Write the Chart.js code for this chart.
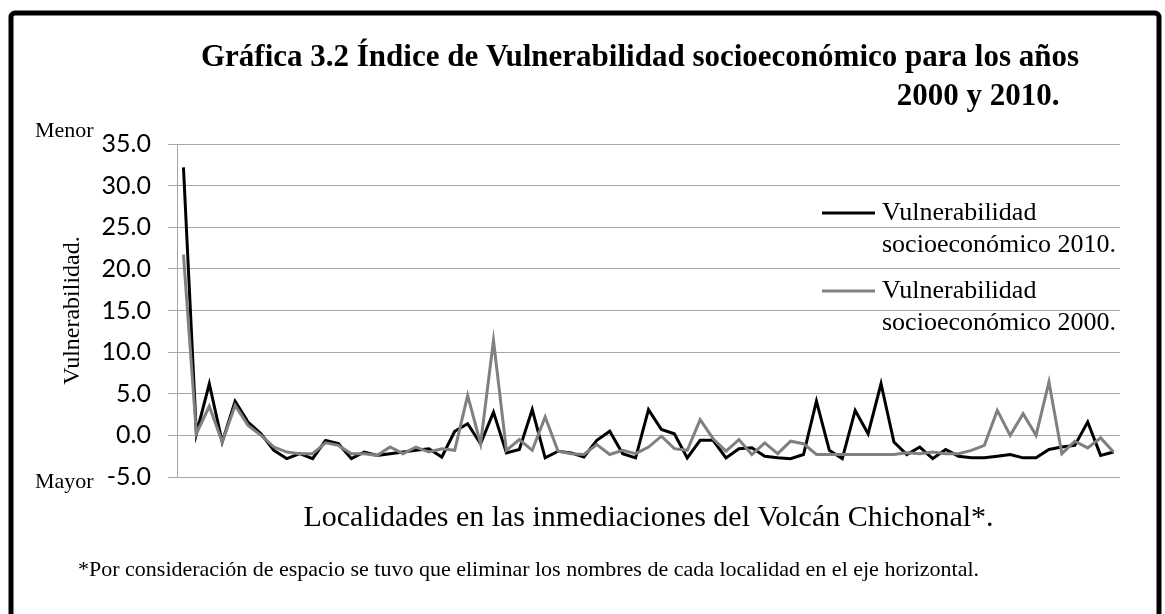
<!DOCTYPE html>
<html>
<head>
<meta charset="utf-8">
<title>Gráfica 3.2</title>
<script src="https://cdn.jsdelivr.net/npm/chart.js@4.4.1/dist/chart.umd.min.js"></script>
<style>
  html, body { margin: 0; padding: 0; background: #fff; }
  #wrap { width: 1165px; height: 614px; }
</style>
</head>
<body>
<div id="wrap"><canvas id="vulnChart" width="1165" height="614"></canvas></div>
<script>
// Localidades (sin nombre en el eje horizontal)
const localidades = [1, 2, 3, 4, 5, 6, 7, 8, 9, 10, 11, 12, 13, 14, 15, 16, 17, 18, 19, 20, 21, 22, 23, 24, 25, 26, 27, 28, 29, 30, 31, 32, 33, 34, 35, 36, 37, 38, 39, 40, 41, 42, 43, 44, 45, 46, 47, 48, 49, 50, 51, 52, 53, 54, 55, 56, 57, 58, 59, 60, 61, 62, 63, 64, 65, 66, 67, 68, 69, 70, 71, 72, 73];

// Índice de vulnerabilidad socioeconómico por localidad
const vuln2010 = [32.2, 0.2, 6.2, -0.8, 4.1, 1.6, 0.2, -1.8, -2.8, -2.2, -2.8, -0.6, -1.0, -2.8, -2.0, -2.4, -2.2, -2.0, -1.8, -1.6,
  -2.6, 0.5, 1.4, -1.0, 2.8, -2.1, -1.7, 3.1, -2.7, -1.9, -2.1, -2.6, -0.6, 0.5, -2.2, -2.7, 3.1, 0.7, 0.2, -2.7,
  -0.6, -0.6, -2.7, -1.6, -1.5, -2.5, -2.7, -2.8, -2.3, 4.1, -1.8, -2.8, 3.0, 0.2, 6.2, -0.8, -2.3, -1.4, -2.8, -1.7,
  -2.5, -2.7, -2.7, -2.5, -2.3, -2.7, -2.7, -1.7, -1.4, -1.2, 1.6, -2.4, -2.0];
const vuln2000 = [21.7, 0.2, 3.5, -0.8, 3.6, 1.2, 0.0, -1.4, -2.0, -2.2, -2.2, -0.9, -1.2, -2.2, -2.2, -2.4, -1.4, -2.2, -1.4, -2.0,
  -1.6, -1.8, 4.8, -1.0, 11.4, -1.8, -0.5, -1.8, 2.2, -1.9, -2.2, -2.3, -1.1, -2.3, -1.8, -2.2, -1.4, -0.1, -1.6, -1.8,
  1.9, -0.4, -1.9, -0.5, -2.3, -0.9, -2.2, -0.7, -1.0, -2.3, -2.3, -2.3, -2.3, -2.3, -2.3, -2.3, -2.1, -2.2, -2.0, -2.2,
  -2.2, -1.8, -1.2, 3.0, 0.0, 2.6, 0.0, 6.4, -2.2, -0.7, -1.5, -0.3, -2.0];

// Textos
const tituloLineas = ['Gráfica 3.2 Índice de Vulnerabilidad socioeconómico para los años', '2000 y 2010.'];
const leyenda2010 = ['Vulnerabilidad', 'socioeconómico 2010.'];
const leyenda2000 = ['Vulnerabilidad', 'socioeconómico 2000.'];
const notaPie = '*Por consideración de espacio se tuvo que eliminar los nombres de cada localidad en el eje horizontal.';

// Dibuja marco, título, leyenda y notas alrededor de la gráfica
const decorPlugin = {
  id: 'decor',
  beforeDraw(chart) {
    const ctx = chart.ctx;
    ctx.save();
    ctx.fillStyle = '#ffffff';
    ctx.fillRect(0, 0, chart.width, chart.height);
    ctx.restore();
  },
  afterDraw(chart) {
    const ctx = chart.ctx;
    ctx.save();

    // marco
    ctx.strokeStyle = '#000';
    ctx.lineWidth = 5;
    ctx.beginPath();
    ctx.roundRect(11, 13, 1148, 700, 4);
    ctx.stroke();

    // título
    ctx.fillStyle = '#000';
    ctx.textBaseline = 'alphabetic';
    ctx.textAlign = 'center';
    ctx.font = 'bold 31px "Liberation Serif"';
    ctx.fillText(tituloLineas[0], 640, 66);
    ctx.fillText(tituloLineas[1], 978, 105);

    // Menor / Mayor
    ctx.textAlign = 'left';
    ctx.font = '22px "Liberation Serif"';
    ctx.fillText('Menor', 35, 137);
    ctx.fillText('Mayor', 35, 488);

    // nota
    ctx.font = '22px "Liberation Serif"';
    ctx.fillText(notaPie, 78, 576);

    // leyenda
    const items = [
      { ds: chart.data.datasets[0], lines: leyenda2010, y: 213 },
      { ds: chart.data.datasets[1], lines: leyenda2000, y: 291 }
    ];
    ctx.font = '26px "Liberation Serif"';
    ctx.textBaseline = 'middle';
    items.forEach(it => {
      ctx.strokeStyle = it.ds.borderColor;
      ctx.lineWidth = it.ds.borderWidth;
      ctx.beginPath();
      ctx.moveTo(822, it.y);
      ctx.lineTo(875, it.y);
      ctx.stroke();
      it.lines.forEach((t, k) => ctx.fillText(t, 882, it.y + k * 32));
    });
    ctx.restore();
  }
};

const ctx = document.getElementById('vulnChart').getContext('2d');
const vulnChart = new Chart(ctx, {
  type: 'line',
  data: {
    labels: localidades,
    datasets: [
      {
        label: 'Vulnerabilidad socioeconómico 2010.',
        data: vuln2010,
        borderColor: '#000000',
        borderWidth: 3,
        pointRadius: 0,
        tension: 0,
        fill: false,
        order: 1
      },
      {
        label: 'Vulnerabilidad socioeconómico 2000.',
        data: vuln2000,
        borderColor: '#808080',
        borderWidth: 3,
        pointRadius: 0,
        tension: 0,
        fill: false,
        order: 0
      }
    ]
  },
  options: {
    responsive: false,
    animation: false,
    layout: {
      padding: { top: 144, right: 45, bottom: 78, left: 0 }
    },
    plugins: {
      legend: { display: false },
      title: { display: false },
      tooltip: { enabled: false }
    },
    scales: {
      x: {
        offset: true,
        ticks: { display: false },
        grid: { display: false, drawTicks: false },
        border: { display: false },
        title: {
          display: true,
          text: 'Localidades en las inmediaciones del Volcán Chichonal*.',
          color: '#000',
          font: { family: '"Liberation Serif"', size: 30 },
          padding: { top: 23, bottom: 0 }
        }
      },
      y: {
        min: -5,
        max: 35,
        afterFit(scale) { scale.width = 177; },
        ticks: {
          stepSize: 5,
          padding: 17,
          color: '#000',
          font: { family: 'Lato', size: 25 },
          callback: v => v.toFixed(1)
        },
        grid: { color: '#a6a6a6', lineWidth: 1, tickLength: 9 },
        border: { color: '#a6a6a6', width: 1 },
        title: {
          display: true,
          text: 'Vulnerabilidad.',
          color: '#000',
          font: { family: '"Liberation Serif"', size: 24 },
          padding: { top: 58, bottom: 0 }
        }
      }
    }
  },
  plugins: [decorPlugin]
});
</script>
</body>
</html>
